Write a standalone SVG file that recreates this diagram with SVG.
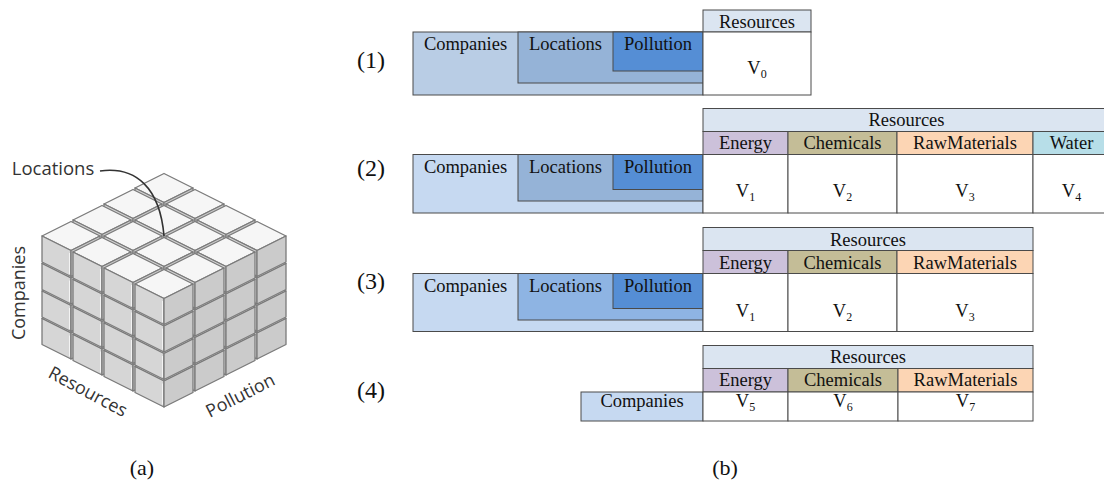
<svg xmlns="http://www.w3.org/2000/svg" xmlns:xlink="http://www.w3.org/1999/xlink" width="1104" height="482" viewBox="0 0 1104 482">
<style>
text.cap{font-family:"Liberation Serif","Times New Roman",serif;font-size:18.5px;fill:#111;text-anchor:middle}
text.num{font-family:"Liberation Serif","Times New Roman",serif;font-size:24px;fill:#111;text-anchor:middle}
.sub{font-size:12px}
text.lbl{font-family:"Open Sans","DejaVu Sans",sans-serif;font-size:18px;fill:#333;text-anchor:middle}
.bx{stroke:#4a4a4a;stroke-width:1}
.cell{fill:#ffffff;stroke:#4a4a4a;stroke-width:1}
.hdr{fill:#dbe5f1;stroke:#4a4a4a;stroke-width:1}
.en{fill:#ccc1da;stroke:#4a4a4a;stroke-width:1}
.ch{fill:#c4bd97;stroke:#4a4a4a;stroke-width:1}
.rm{fill:#fcd5b4;stroke:#4a4a4a;stroke-width:1}
.wa{fill:#b7dee8;stroke:#4a4a4a;stroke-width:1}
.co{fill:#c6d9f1}
.lo{fill:#95b3d7}
.po{fill:#558ed5}
.ft{fill:#f6f6f6;stroke:#7a7a7a;stroke-width:1.3;stroke-linejoin:round}
.fl{fill:#d6d6d6;stroke:#7a7a7a;stroke-width:1.3;stroke-linejoin:round}
.fr{fill:#cbcbcb;stroke:#7a7a7a;stroke-width:1.3;stroke-linejoin:round}
</style>
<defs>
<g id="cube">
<path class="ft" d="M0,1.5 L-29,16 L0,30.5 L29,16 Z"/>
<path class="fl" d="M-29,16 L0,30.5 L0,56.5 L-29,42 Z"/>
<path class="fr" d="M0,30.5 L29,16 L29,42 L0,56.5 Z"/>
<path d="M-1.5,33 L-1.5,54" stroke="#ffffff" stroke-width="1" fill="none" opacity="0.7"/>
</g>
</defs>
<rect width="1104" height="482" fill="#ffffff"/>

<g id="cube-a">
<use href="#cube" x="164" y="172"/>
<use href="#cube" x="71" y="302.5"/>
<use href="#cube" x="257" y="302.5"/>
<use href="#cube" x="133" y="188"/>
<use href="#cube" x="195" y="188"/>
<use href="#cube" x="71" y="275"/>
<use href="#cube" x="257" y="275"/>
<use href="#cube" x="102" y="318.5"/>
<use href="#cube" x="226" y="318.5"/>
<use href="#cube" x="102" y="204"/>
<use href="#cube" x="164" y="204"/>
<use href="#cube" x="226" y="204"/>
<use href="#cube" x="71" y="247.5"/>
<use href="#cube" x="257" y="247.5"/>
<use href="#cube" x="102" y="291"/>
<use href="#cube" x="226" y="291"/>
<use href="#cube" x="133" y="334.5"/>
<use href="#cube" x="195" y="334.5"/>
<use href="#cube" x="71" y="220"/>
<use href="#cube" x="133" y="220"/>
<use href="#cube" x="195" y="220"/>
<use href="#cube" x="257" y="220"/>
<use href="#cube" x="102" y="263.5"/>
<use href="#cube" x="226" y="263.5"/>
<use href="#cube" x="133" y="307"/>
<use href="#cube" x="195" y="307"/>
<use href="#cube" x="164" y="350.5"/>
<use href="#cube" x="102" y="236"/>
<use href="#cube" x="164" y="236"/>
<use href="#cube" x="226" y="236"/>
<use href="#cube" x="133" y="279.5"/>
<use href="#cube" x="195" y="279.5"/>
<use href="#cube" x="164" y="323"/>
<use href="#cube" x="133" y="252"/>
<use href="#cube" x="195" y="252"/>
<use href="#cube" x="164" y="295.5"/>
<use href="#cube" x="164" y="268"/>
</g>

<g id="connectors">
<path d="M100,171 C136,166 160,188 164,236" fill="none" stroke="#333333" stroke-width="1.6"/>
</g>

<g id="cube-labels">
<text class="lbl" x="53" y="175" style="font-size:18.5px">Locations</text>
<text class="lbl" transform="translate(25,293) rotate(-90)">Companies</text>
<text class="lbl" transform="translate(85,397) rotate(28)">Resources</text>
<text class="lbl" transform="translate(243,401) rotate(-27)">Pollution</text>
</g>

<g id="row1" font-family="Liberation Serif, serif">
<text class="num" x="371" y="67.7">(1)</text>
<g id="r1-dims">
<rect class="bx" x="413" y="32" width="290" height="63" fill="#b9cde5"/>
<rect class="bx lo" x="518" y="32" width="185" height="51"/>
<rect class="bx po" x="613" y="32" width="90" height="39"/>
<text class="cap" x="465.5" y="50">Companies</text>
<text class="cap" x="565.5" y="50">Locations</text>
<text class="cap" x="658" y="50">Pollution</text>
</g>
<g id="r1-res">
<rect class="hdr" x="703" y="10" width="108" height="22"/>
<rect class="cell" x="703" y="32" width="108" height="63"/>
<text class="cap" x="757" y="27.5">Resources</text>
<text class="cap" x="757" y="74">V<tspan class="sub" dy="4">0</tspan></text>
</g>
</g>

<g id="row2" font-family="Liberation Serif, serif">
<text class="num" x="371" y="175.7">(2)</text>
<g id="r2-dims">
<rect class="bx co" x="413" y="154.5" width="290" height="58.5"/>
<rect class="bx lo" x="518" y="154.5" width="185" height="46.5"/>
<rect class="bx po" x="613" y="154.5" width="90" height="35"/>
<text class="cap" x="465.5" y="173">Companies</text>
<text class="cap" x="565.5" y="173">Locations</text>
<text class="cap" x="658" y="173">Pollution</text>
</g>
<g id="r2-res">
<rect class="hdr" x="703" y="108.5" width="407" height="23"/>
<rect class="en" x="703" y="131.5" width="85" height="23"/>
<rect class="ch" x="788" y="131.5" width="109" height="23"/>
<rect class="rm" x="897" y="131.5" width="136" height="23"/>
<rect class="wa" x="1033" y="131.5" width="77" height="23"/>
<rect class="cell" x="703" y="154.5" width="85" height="58.5"/>
<rect class="cell" x="788" y="154.5" width="109" height="58.5"/>
<rect class="cell" x="897" y="154.5" width="136" height="58.5"/>
<rect class="cell" x="1033" y="154.5" width="77" height="58.5"/>
<text class="cap" x="906.5" y="126">Resources</text>
<text class="cap" x="745.5" y="149">Energy</text>
<text class="cap" x="842.5" y="149">Chemicals</text>
<text class="cap" x="965" y="149">RawMaterials</text>
<text class="cap" x="1071.5" y="149">Water</text>
<text class="cap" x="745.5" y="197">V<tspan class="sub" dy="4">1</tspan></text>
<text class="cap" x="842.5" y="197">V<tspan class="sub" dy="4">2</tspan></text>
<text class="cap" x="965" y="197">V<tspan class="sub" dy="4">3</tspan></text>
<text class="cap" x="1071.5" y="197">V<tspan class="sub" dy="4">4</tspan></text>
</g>
</g>

<g id="row3" font-family="Liberation Serif, serif">
<text class="num" x="371" y="288.7">(3)</text>
<g id="r3-dims">
<rect class="bx co" x="413" y="273.5" width="290" height="58"/>
<rect class="bx" x="518" y="273.5" width="185" height="46.5" fill="#8eb4e3"/>
<rect class="bx po" x="613" y="273.5" width="90" height="35"/>
<text class="cap" x="465.5" y="292">Companies</text>
<text class="cap" x="565.5" y="292">Locations</text>
<text class="cap" x="658" y="292">Pollution</text>
</g>
<g id="r3-res">
<rect class="hdr" x="703" y="227.5" width="330" height="23"/>
<rect class="en" x="703" y="250.5" width="85" height="23"/>
<rect class="ch" x="788" y="250.5" width="109" height="23"/>
<rect class="rm" x="897" y="250.5" width="136" height="23"/>
<rect class="cell" x="703" y="273.5" width="85" height="58"/>
<rect class="cell" x="788" y="273.5" width="109" height="58"/>
<rect class="cell" x="897" y="273.5" width="136" height="58"/>
<text class="cap" x="868" y="245.5">Resources</text>
<text class="cap" x="745.5" y="268.5">Energy</text>
<text class="cap" x="842.5" y="268.5">Chemicals</text>
<text class="cap" x="965" y="268.5">RawMaterials</text>
<text class="cap" x="745.5" y="316.5">V<tspan class="sub" dy="4">1</tspan></text>
<text class="cap" x="842.5" y="316.5">V<tspan class="sub" dy="4">2</tspan></text>
<text class="cap" x="965" y="316.5">V<tspan class="sub" dy="4">3</tspan></text>
</g>
</g>

<g id="row4" font-family="Liberation Serif, serif">
<text class="num" x="371" y="397.7">(4)</text>
<g id="r4-dims">
<rect class="bx co" x="581" y="392" width="122" height="29"/>
<text class="cap" x="642" y="407">Companies</text>
</g>
<g id="r4-res">
<rect class="hdr" x="703" y="345.5" width="330" height="23"/>
<rect class="en" x="703" y="368.5" width="85" height="23.5"/>
<rect class="ch" x="788" y="368.5" width="110" height="23.5"/>
<rect class="rm" x="898" y="368.5" width="135" height="23.5"/>
<rect class="cell" x="703" y="392" width="85" height="29"/>
<rect class="cell" x="788" y="392" width="110" height="29"/>
<rect class="cell" x="898" y="392" width="135" height="29"/>
<text class="cap" x="868" y="363">Resources</text>
<text class="cap" x="745.5" y="386">Energy</text>
<text class="cap" x="843" y="386">Chemicals</text>
<text class="cap" x="965.5" y="386">RawMaterials</text>
<text class="cap" x="745.5" y="407">V<tspan class="sub" dy="4">5</tspan></text>
<text class="cap" x="843" y="407">V<tspan class="sub" dy="4">6</tspan></text>
<text class="cap" x="965.5" y="407">V<tspan class="sub" dy="4">7</tspan></text>
</g>
</g>

<g id="captions">
<text class="num" x="142" y="475" style="font-size:22px">(a)</text>
<text class="num" x="725" y="475" style="font-size:22px">(b)</text>
</g>
</svg>
